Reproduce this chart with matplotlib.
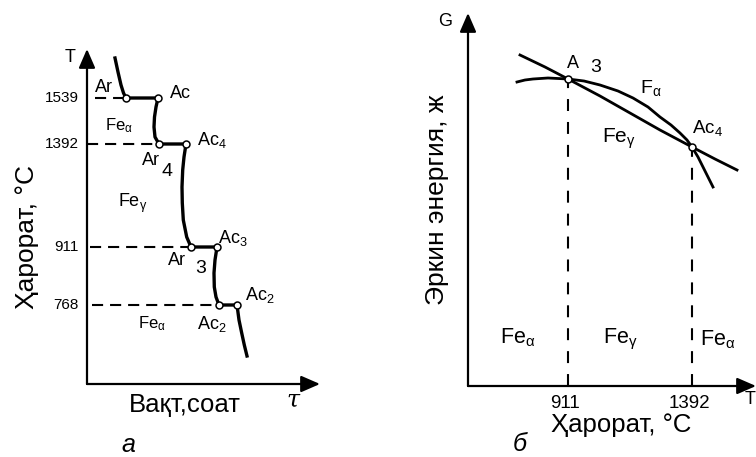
import matplotlib.pyplot as plt

plt.rcParams['font.family'] = ['Liberation Sans', 'DejaVu Sans']
plt.rcParams['mathtext.fontset'] = 'custom'
plt.rcParams['mathtext.rm'] = 'Liberation Sans'
plt.rcParams['mathtext.it'] = 'Liberation Sans:italic'
plt.rcParams['mathtext.default'] = 'regular'
plt.rcParams['lines.scale_dashes'] = False

# ---- panel a: heating / cooling curve of iron (schematic units) ----
curve_time = [28, 31, 34, 36.5, 39, 71, 69, 67.5, 67, 68, 72, 99, 97, 95.7, 95,
              95.3, 96.3, 99.7, 104, 130, 128, 127, 127.3, 129, 132, 150, 152,
              154.7, 157.3, 160]
curve_temp = [326, 312, 299, 291, 286, 286, 277, 267, 257, 247, 240, 240, 227,
              214, 197, 181, 164, 147, 137, 137, 124, 111, 97, 87, 79, 79, 64,
              51, 39, 28]
crit_time = [39, 71, 72, 99, 104, 130, 132, 150]
crit_temp = [286, 286, 240, 240, 137, 137, 79, 79]
level_pos = [286, 240, 137, 79]
level_labels = ['1539', '1392', '911', '768']
level_start = [8, 0, 3, 5]
level_end = [39, 72, 104, 132]

# ---- panel б: free energy vs temperature ----
gamma_T = [52, 77, 100, 132, 162, 192, 224, 247, 269]
gamma_G = [331, 319, 307, 290, 273, 256, 239, 227, 216]
alpha_T = [49, 57, 65, 80, 100, 116, 132, 150, 165, 180, 192, 203, 212, 219,
           224, 230, 235, 240, 245]
alpha_G = [304, 306, 307, 308, 307, 305, 301, 295, 288, 279, 269, 261, 253,
           246, 239, 229, 219, 209, 199]
cross_T = [100, 224]
cross_G = [307, 239]
cross_labels = ['911', '1392']

fig = plt.figure(figsize=(7.56, 4.57), dpi=100)
ax1 = fig.add_axes([0, 0, 0.5, 1])
ax2 = fig.add_axes([0.5, 0, 0.5, 1])
ax1.set_xlim(-87, 291)
ax1.set_ylim(-73, 384)
ax2.set_xlim(-90, 288)
ax2.set_ylim(-71, 386)
for ax in (ax1, ax2):
    ax.axis('off')

arrow = dict(arrowstyle='-|>,head_length=1.15,head_width=0.5', lw=1.6,
             color='black', mutation_scale=10, shrinkA=0, shrinkB=0)

# ---- a ----
ax = ax1
ax.annotate('', xy=(0, 335), xytext=(0, 0), arrowprops=arrow)
ax.annotate('', xy=(233, 0), xytext=(0, 0), arrowprops=arrow)
for y, x0, x1 in zip(level_pos, level_start, level_end):
    ax.plot([x0, x1], [y, y], color='black', lw=1.5, ls=(0, (8, 5)))
ax.plot(curve_time, curve_temp, color='black', lw=2.4, solid_joinstyle='round')
ax.plot(crit_time, crit_temp, 'o', ms=5, mfc='white', mec='black', mew=1.1)
for y, lab in zip(level_pos, level_labels):
    ax.text(-8, y, lab, ha='right', va='center', fontsize=11)
ax.text(-17, 327, 'T', ha='center', va='center', fontsize=13)
ax.text(16.5, 297, 'Ar', ha='center', va='center', fontsize=13)
ax.text(93.5, 291, 'Ac', ha='center', va='center', fontsize=13)
ax.text(18, 254, r'Fe$_\alpha$', fontsize=12)
ax.text(31, 177, r'Fe$_\gamma$', fontsize=13)
ax.text(51, 56, r'Fe$_\alpha$', fontsize=12)
ax.text(110, 239, r'Ac$_4$', fontsize=13)
ax.text(55, 219, 'Ar', fontsize=13)
ax.text(75, 208, '4', fontsize=14)
ax.text(131, 141, r'Ac$_3$', fontsize=13)
ax.text(81, 119, 'Ar', fontsize=13)
ax.text(108, 111, '3', fontsize=14)
ax.text(158, 84, r'Ac$_2$', fontsize=13)
ax.text(110, 55, r'Ac$_2$', fontsize=13)
ax.text(98, -28, 'Вақт,соат', ha='center', fontsize=18.5)
ax.text(206, -16, 'τ', ha='center', va='center', fontsize=17,
        family='DejaVu Serif', style='italic')
ax.text(-60, 147, 'Ҳарорат, °C', ha='center', va='center', rotation=90,
        fontsize=19)
ax.text(41, -68, 'а', ha='center', fontsize=18, style='italic')

# ---- б ----
ax = ax2
ax.annotate('', xy=(0, 373), xytext=(0, 0), arrowprops=arrow)
ax.annotate('', xy=(288, 0), xytext=(0, 0), arrowprops=arrow)
for x, g in zip(cross_T, cross_G):
    ax.plot([x, x], [0, g], color='black', lw=1.5, ls=(0, (8.6, 7.9)))
ax.plot(gamma_T, gamma_G, color='black', lw=2.0)
ax.plot(alpha_T, alpha_G, color='black', lw=2.0)
ax.plot(cross_T, cross_G, 'o', ms=5, mfc='white', mec='black', mew=1.1)
for x, lab in zip(cross_T, cross_labels):
    ax.text(x - 3, -9, lab, ha='center', va='top', fontsize=13.5)
ax.text(-23, 364, 'G', ha='center', va='center', fontsize=13)
ax.text(282, -13, 'T', ha='center', va='center', fontsize=13)
ax.text(99, 318, 'A', fontsize=13)
ax.text(122, 314, '3', fontsize=14)
ax.text(172, 293, r'F$_\alpha$', fontsize=14)
ax.text(224, 253, r'Ac$_4$', fontsize=13.5)
ax.text(134, 243, r'Fe$_\gamma$', fontsize=15)
ax.text(32, 43, r'Fe$_\alpha$', fontsize=15.5)
ax.text(135, 43, r'Fe$_\gamma$', fontsize=15.5)
ax.text(232, 41, r'Fe$_\alpha$', fontsize=15.5)
ax.text(153, -39, 'Ҳарорат, °C', ha='center', va='center', fontsize=18.5)
ax.text(52, -58, 'б', ha='center', va='center', fontsize=18, style='italic')
ax.text(-31, 186, 'Эркин энергия, ж', ha='center', va='center', rotation=90,
        fontsize=19)

fig.savefig('out.png', dpi=100)
